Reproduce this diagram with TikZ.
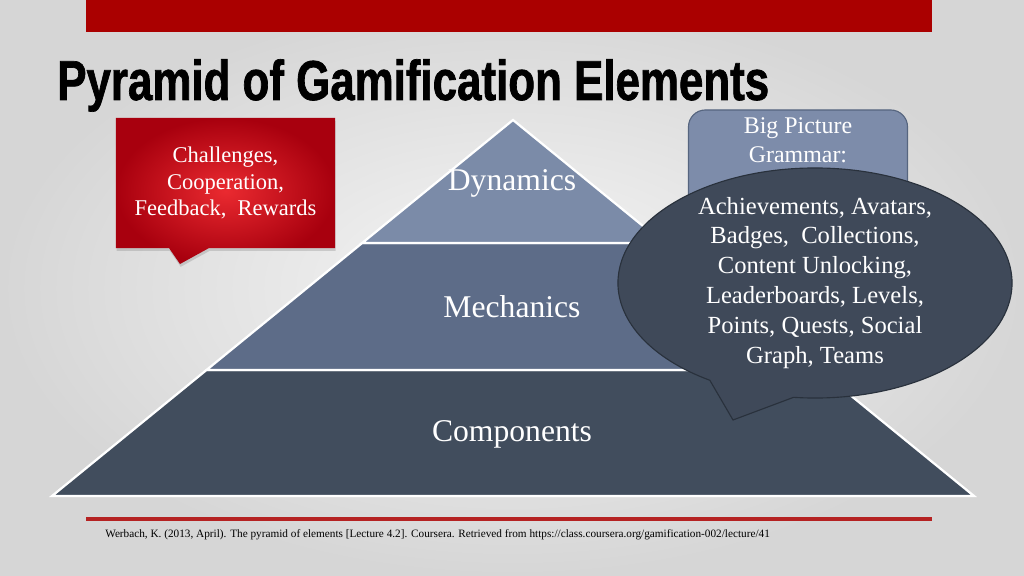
\documentclass[tikz,border=0pt]{standalone}
\usepackage{fontspec}
\setmainfont{Liberation Serif}
\newfontfamily\titleFont{Liberation Sans}[FakeStretch=0.78,FakeBold=1.2]
\usepackage{xcolor}
\definecolor{redBar}{HTML}{AA0000}
\definecolor{redLine}{HTML}{B52222}
\definecolor{redLight}{HTML}{EA2A30}
\definecolor{redDeep}{HTML}{A8000E}
\definecolor{tierTop}{HTML}{7B8BA8}
\definecolor{tierMid}{HTML}{5D6C88}
\definecolor{tierLow}{HTML}{414D5D}
\definecolor{bubbleFill}{HTML}{3F4959}
\definecolor{bubbleEdge}{HTML}{29313C}
\definecolor{gramFill}{HTML}{7D8CAA}
\definecolor{gramEdge}{HTML}{56657F}
\definecolor{bgLight}{HTML}{F6F6F6}
\definecolor{bgDark}{HTML}{D6D6D6}
\usetikzlibrary{positioning,calc,shapes.callouts,shadows}
\tikzset{%
  tierBlock/.style={%
    draw=white,
    line width=1.6pt,
    line join=miter
  },
  tierLabel/.style={%
    text=white,
    font=\fontsize{22.5}{27}\selectfont
  },
  bubbleNote/.style={%
    ellipse callout,
    draw=bubbleEdge,
    fill=bubbleFill,
    line width=0.8pt,
    inner sep=0pt,
    minimum width=9.85cm,
    minimum height=5.75cm,
    callout pointer arc=26
  },
  bubbleText/.style={%
    text=white,
    align=center,
    font=\fontsize{17.5}{21.3}\selectfont
  },
  redNote/.style={%
    rectangle callout,
    inner color=redLight,
    outer color=redDeep,
    drop shadow={opacity=0.3, shadow xshift=0.5pt, shadow yshift=-2pt},
    text=white,
    align=center,
    minimum width=5.475cm,
    minimum height=3.25cm,
    callout pointer width=1cm,
    font=\fontsize{16}{19}\selectfont
  },
  gramBox/.style={%
    rectangle,
    rounded corners=12pt,
    draw=gramEdge,
    fill=gramFill,
    line width=0.8pt,
    minimum width=5.475cm,
    minimum height=3.75cm
  },
  gramText/.style={%
    text=white,
    align=center,
    inner sep=0pt,
    font=\fontsize{17}{20.5}\selectfont
  }
}
\begin{document}
\begin{tikzpicture}[x=0.025cm, y=-0.025cm]
  \useasboundingbox (0,0) rectangle (1024,576);
  \shade[inner color=bgLight, outer color=bgDark] (0,0) rectangle (1024,576);

  % header bar and title
  \fill[redBar] (86,0) rectangle (932,32);
  \node[anchor=base west, inner sep=0pt, font=\titleFont\bfseries\fontsize{40}{44}\selectfont, text=black] (title) at (57,100) {Pyramid of Gamification Elements};

  % pyramid
  \coordinate (apex) at (513,120);
  \coordinate (baseL) at (52,496);
  \coordinate (baseR) at (974,496);
  \path[tierBlock, fill=tierLow] ($(apex)!0.665!(baseL)$) -- (baseL) -- (baseR) -- ($(apex)!0.665!(baseR)$) -- cycle;
  \path[tierBlock, fill=tierMid] ($(apex)!0.327!(baseL)$) -- ($(apex)!0.665!(baseL)$) -- ($(apex)!0.665!(baseR)$) -- ($(apex)!0.327!(baseR)$) -- cycle;
  \path[tierBlock, fill=tierTop] (apex) -- ($(apex)!0.327!(baseL)$) -- ($(apex)!0.327!(baseR)$) -- cycle;
  \node[tierLabel] (dynamics) at (512,183) {Dynamics};
  \node[tierLabel] (mechanics) at (512,307) {Mechanics};
  \node[tierLabel] (components) at (512,434) {Components};

  % red note, points down
  \coordinate (redTip) at (180,264);
  \node[redNote, callout absolute pointer={(redTip)}] (dynNote) at (225.5,183) {Challenges,\\Cooperation,\\Feedback,~ Rewards};

  % grammar box behind the bubble
  \node[gramBox] (grammar) at (798,185) {};
  \node[gramText, below=6pt of grammar.north] (grammarText) {Big Picture\\Grammar:};

  % component bubble
  \coordinate (bubbleTip) at (733,420);
  \node[bubbleNote, callout absolute pointer={(bubbleTip)}] (compNote) at (815,283) {};
  \node[bubbleText] (compText) at (compNote.center) {Achievements, Avatars,\\Badges,~ Collections,\\Content Unlocking,\\Leaderboards, Levels,\\Points, Quests, Social\\Graph, Teams};

  % footer
  \draw[redLine, line width=2.4pt] (86,519) -- (932,519);
  \node[anchor=base west, inner sep=0pt, font=\fontsize{8}{9.6}\selectfont] (source) at (105,537) {Werbach, K. (2013, April). The pyramid of elements [Lecture 4.2]. Coursera. Retrieved from https://class.coursera.org/gamification-002/lecture/41};
\end{tikzpicture}
\end{document}
